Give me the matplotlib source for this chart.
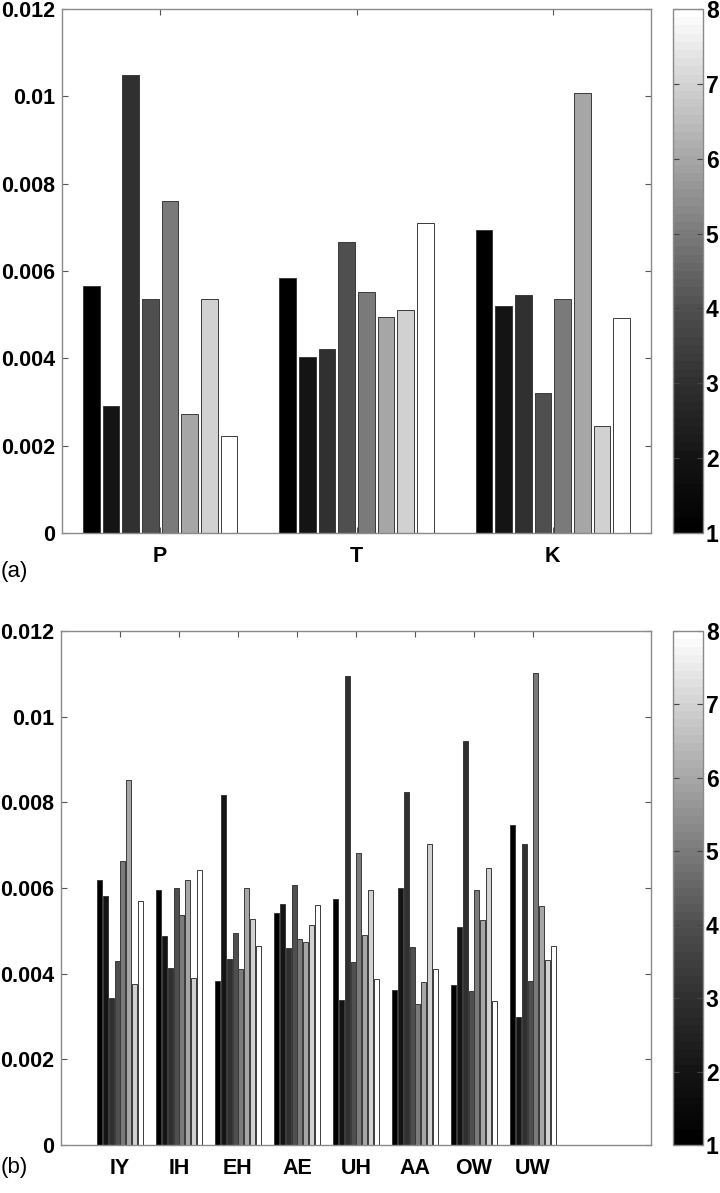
"""Grouped bar charts of per-class values for consonants (a) and vowels (b)."""

from __future__ import annotations

import matplotlib

matplotlib.use("Agg")
import matplotlib.pyplot as plt
import numpy as np
from matplotlib.colors import LinearSegmentedColormap, Normalize
from matplotlib.cm import ScalarMappable

# --- data (values x 1e-3), one list per series index 1..8 within each group ---
consonants = ["P", "T", "K"]
consonant_values = [
    [5.65, 2.90, 10.50, 5.35, 7.60, 2.72, 5.36, 2.22],  # P
    [5.83, 4.02, 4.22, 6.67, 5.52, 4.94, 5.10, 7.09],  # T
    [6.95, 5.20, 5.45, 3.20, 5.35, 10.07, 2.45, 4.92],  # K
]

vowels = ["IY", "IH", "EH", "AE", "UH", "AA", "OW", "UW"]
vowel_values = [
    [6.19, 5.81, 3.44, 4.30, 6.63, 8.53, 3.75, 5.70],  # IY
    [5.96, 4.88, 4.13, 6.01, 5.36, 6.18, 3.90, 6.42],  # IH
    [3.84, 8.17, 4.34, 4.95, 4.11, 6.01, 5.28, 4.64],  # EH
    [5.41, 5.62, 4.61, 6.08, 4.80, 4.74, 5.14, 5.61],  # AE
    [5.75, 3.38, 10.95, 4.28, 6.82, 4.91, 5.96, 3.88],  # UH
    [3.61, 6.00, 8.23, 4.62, 3.30, 3.81, 7.03, 4.11],  # AA
    [3.74, 5.08, 9.44, 3.59, 5.95, 5.25, 6.47, 3.36],  # OW
    [7.46, 3.00, 7.02, 3.84, 11.01, 5.57, 4.31, 4.65],  # UW
]

series_index = [1, 2, 3, 4, 5, 6, 7, 8]
yticks = [0, 0.002, 0.004, 0.006, 0.008, 0.01, 0.012]
ytick_labels = ["0", "0.002", "0.004", "0.006", "0.008", "0.01", "0.012"]

# gray map as it appears in the printed figure (slightly gamma-shifted)
gray_levels = [0.0, 0.08, 0.19, 0.31, 0.48, 0.65, 0.82, 1.0]
cmap = LinearSegmentedColormap.from_list(
    "print_gray", [(g, g, g) for g in gray_levels], N=64
)
norm = Normalize(vmin=1, vmax=8)

FONT = "Liberation Sans"
SPINE = "#8a8a8a"
W, H = 720, 1193
LABEL_SIZE = 15.5


def _style_axes(ax) -> None:
    for s in ax.spines.values():
        s.set_color(SPINE)
        s.set_linewidth(1.0)
    ax.tick_params(
        direction="in", length=4, width=0.8, color="#555555",
        top=True, right=True, labelsize=LABEL_SIZE,
    )
    ax.tick_params(axis="x", pad=9)
    ax.tick_params(axis="y", pad=5)
    for lab in ax.get_xticklabels() + ax.get_yticklabels():
        lab.set_fontweight("bold")
        lab.set_fontfamily(FONT)


def _grouped_bars(ax, groups: list[str], values: list[list[float]], xlim) -> None:
    n = len(series_index)
    pitch = 0.1
    x = np.arange(1, len(groups) + 1)
    vals = np.array(values) * 1e-3
    for j, idx in enumerate(series_index):
        offs = (j - (n - 1) / 2) * pitch
        ax.bar(
            x + offs, vals[:, j], width=0.085,
            color=cmap(norm(idx)), edgecolor="#3a3a3a", linewidth=0.7,
            zorder=2,
        )
    ax.set_xlim(*xlim)
    ax.set_ylim(0, 0.012)
    ax.set_xticks(x)
    ax.set_xticklabels(groups)
    ax.set_yticks(yticks)
    ax.set_yticklabels(ytick_labels)
    _style_axes(ax)


def _colorbar(fig, rect) -> None:
    cax = fig.add_axes(rect)
    sm = ScalarMappable(norm=norm, cmap=cmap)
    cb = fig.colorbar(sm, cax=cax, ticks=series_index)
    cb.outline.set_edgecolor(SPINE)
    cb.outline.set_linewidth(1.0)
    cax.tick_params(
        direction="in", length=4, width=0.8, color="#444444",
        left=True, right=True, labelsize=LABEL_SIZE + 1, pad=2,
    )
    for lab in cax.get_yticklabels():
        lab.set_fontweight("bold")
        lab.set_fontfamily(FONT)


def main() -> None:
    plt.rcParams["font.family"] = FONT
    fig = plt.figure(figsize=(W / 100, H / 100), dpi=100)

    def rect(x0, y0, x1, y1):
        return [x0 / W, 1 - y1 / H, (x1 - x0) / W, (y1 - y0) / H]

    ax_a = fig.add_axes(rect(62, 9, 651, 533))
    _grouped_bars(ax_a, consonants, consonant_values, (0.5, 3.5))
    _colorbar(fig, rect(673, 9, 703, 533))

    ax_b = fig.add_axes(rect(61, 631, 651, 1145))
    _grouped_bars(ax_b, vowels, vowel_values, (0, 10))
    _colorbar(fig, rect(673, 631, 703, 1145))

    fig.text(1 / W, 1 - 572 / H, "(a)", fontsize=16, va="center", ha="left")
    fig.text(1 / W, 1 - 1168 / H, "(b)", fontsize=16, va="center", ha="left")

    fig.savefig("out.png", dpi=100)
    plt.close(fig)


if __name__ == "__main__":
    main()
